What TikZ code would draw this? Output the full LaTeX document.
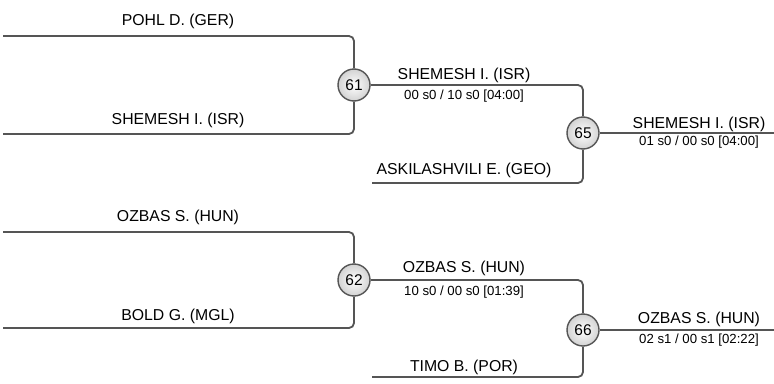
\documentclass[tikz,border=0pt]{standalone}
\usepackage{fontspec}
\setmainfont{Liberation Sans}
\definecolor{lineg}{HTML}{555555}
\begin{document}
\begin{tikzpicture}[x=1pt,y=-1pt,
  conn/.style={draw=lineg,line width=1.8pt,rounded corners=5pt},
  match/.style={circle,draw=lineg,line width=1.4pt,minimum size=32pt,inner sep=0pt,
    inner color=white,outer color=gray!35,font=\fontsize{15.5}{17}\selectfont},
  plname/.style={anchor=base,inner sep=0pt,font=\fontsize{15.8}{18}\selectfont},
  plscore/.style={anchor=base,inner sep=0pt,font=\fontsize{13.2}{15}\selectfont}]
\useasboundingbox (0,0) rectangle (774,383);
% coordinates
\coordinate (a1) at (3,36);
\coordinate (a2) at (3,134);
\coordinate (b1) at (372,183);
\coordinate (e65) at (774,133);
\coordinate (c1) at (3,232);
\coordinate (c2) at (3,328);
\coordinate (d1) at (372,377);
\coordinate (e66) at (774,330);
% match nodes
\node[match] (m61) at (354,85) {61};
\node[match] (m65) at (583,133) {65};
\node[match] (m62) at (354,280) {62};
\node[match] (m66) at (583,330) {66};
% connectors
\draw[conn] (a1) -| (m61);
\draw[conn] (a2) -| (m61);
\draw[conn] (m61) -| (m65);
\draw[conn] (b1) -| (m65);
\draw[conn] (m65) -- (e65);
\draw[conn] (c1) -| (m62);
\draw[conn] (c2) -| (m62);
\draw[conn] (m62) -| (m66);
\draw[conn] (d1) -| (m66);
\draw[conn] (m66) -- (e66);
% labels
\node[plname] (n1) at (178,25) {POHL D. (GER)};
\node[plname] (n2) at (178,124) {SHEMESH I. (ISR)};
\node[plname] (n3) at (464,79) {SHEMESH I. (ISR)};
\node[plscore] (s3) at (464,99) {00 s0 / 10 s0 [04:00]};
\node[plname] (n4) at (464,174) {ASKILASHVILI E. (GEO)};
\node[plname] (n5) at (699,128) {SHEMESH I. (ISR)};
\node[plscore] (s5) at (699,145) {01 s0 / 00 s0 [04:00]};
\node[plname] (n6) at (178,221) {OZBAS S. (HUN)};
\node[plname] (n7) at (178,320) {BOLD G. (MGL)};
\node[plname] (n8) at (464,272.5) {OZBAS S. (HUN)};
\node[plscore] (s8) at (464,295) {10 s0 / 00 s0 [01:39]};
\node[plname] (n9) at (464,371) {TIMO B. (POR)};
\node[plname] (n10) at (699,323) {OZBAS S. (HUN)};
\node[plscore] (s10) at (699,343) {02 s1 / 00 s1 [02:22]};
\end{tikzpicture}
\end{document}
